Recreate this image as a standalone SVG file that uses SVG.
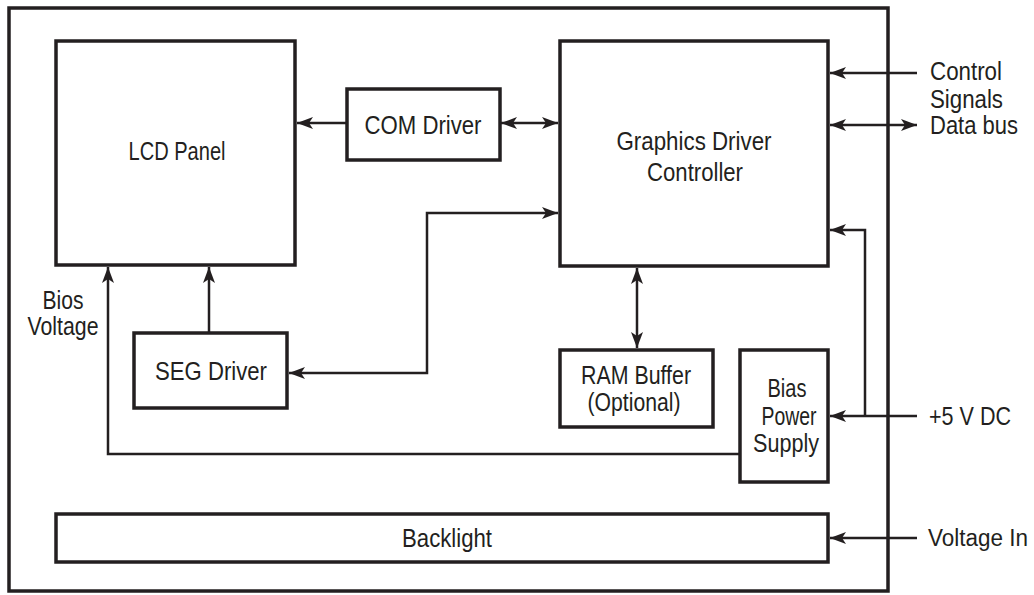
<svg xmlns="http://www.w3.org/2000/svg" width="1034" height="595" viewBox="0 0 1034 595">
<defs>
<style>
.box{fill:#fff;stroke:#231f20;stroke-width:3.5}
.frame{fill:none;stroke:#231f20;stroke-width:3.5}
.c{fill:none;stroke:#231f20;stroke-width:2.5}
.ae{marker-end:url(#ah)}
.ab{marker-start:url(#ah);marker-end:url(#ah)}
text{font-family:"Liberation Sans",Arial,sans-serif;font-size:25px;fill:#231f20}
.m{text-anchor:middle}
</style>
<marker id="ah" viewBox="0 0 16 12" refX="16" refY="6" markerWidth="16" markerHeight="12" markerUnits="userSpaceOnUse" orient="auto-start-reverse">
<path d="M0,0 L16,6 L0,12 L4,6 Z" fill="#231f20"/>
</marker>
</defs>
<rect class="frame" x="9" y="8" width="879" height="583"/>
<g id="lcd-panel"><rect class="box" x="56" y="41" width="239" height="224"/><text class="m" x="177" y="160" textLength="97" lengthAdjust="spacingAndGlyphs">LCD Panel</text></g>
<g id="com-driver"><rect class="box" x="347" y="89" width="153" height="71"/><text class="m" x="423" y="134" textLength="117" lengthAdjust="spacingAndGlyphs">COM Driver</text></g>
<g id="graphics-controller"><rect class="box" x="560" y="41" width="268" height="225"/><text class="m" x="694" y="150" textLength="155" lengthAdjust="spacingAndGlyphs">Graphics Driver</text><text class="m" x="695" y="181" textLength="96" lengthAdjust="spacingAndGlyphs">Controller</text></g>
<g id="seg-driver"><rect class="box" x="134" y="333" width="153" height="75"/><text class="m" x="211" y="380" textLength="112" lengthAdjust="spacingAndGlyphs">SEG Driver</text></g>
<g id="ram-buffer"><rect class="box" x="560" y="350" width="153" height="77"/><text class="m" x="636" y="384" textLength="110" lengthAdjust="spacingAndGlyphs">RAM Buffer</text><text class="m" x="634" y="411" textLength="93" lengthAdjust="spacingAndGlyphs">(Optional)</text></g>
<g id="bias-power-supply"><rect class="box" x="740" y="350" width="88" height="132"/><text class="m" x="787" y="397" textLength="39" lengthAdjust="spacingAndGlyphs">Bias</text><text class="m" x="789" y="425" textLength="55" lengthAdjust="spacingAndGlyphs">Power</text><text class="m" x="786" y="452" textLength="66" lengthAdjust="spacingAndGlyphs">Supply</text></g>
<g id="backlight"><rect class="box" x="56" y="514" width="772" height="48"/><text class="m" x="447" y="547" textLength="90" lengthAdjust="spacingAndGlyphs">Backlight</text></g>
<g id="labels">
<text class="m" x="63" y="309" textLength="41" lengthAdjust="spacingAndGlyphs">Bios</text>
<text class="m" x="63" y="335" textLength="71" lengthAdjust="spacingAndGlyphs">Voltage</text>
<text x="930" y="80" textLength="72" lengthAdjust="spacingAndGlyphs">Control</text>
<text x="930" y="108" textLength="73" lengthAdjust="spacingAndGlyphs">Signals</text>
<text x="930" y="134" textLength="88" lengthAdjust="spacingAndGlyphs">Data bus</text>
<text x="929" y="425" textLength="82" lengthAdjust="spacingAndGlyphs">+5 V DC</text>
<text x="928" y="546" style="font-size:23px" textLength="100" lengthAdjust="spacingAndGlyphs">Voltage In</text>
</g>
<g id="connectors">
<path class="c ae" d="M347,123 L297,123"/>
<path class="c ab" d="M501,123 L558,123"/>
<path class="c ab" d="M558,213 L427,213 L427,373 L289,373"/>
<path class="c ae" d="M209,333 L209,267"/>
<path class="c ae" d="M740,454 L108,454 L108,267"/>
<path class="c ab" d="M637,268 L637,348"/>
<path class="c ae" d="M917,73 L830,73"/>
<path class="c ab" d="M830,125 L917,125"/>
<path class="c ae" d="M917,416 L830,416"/>
<path class="c ae" d="M865,416 L865,230 L830,230"/>
<path class="c ae" d="M917,538 L830,538"/>
</g>
</svg>
